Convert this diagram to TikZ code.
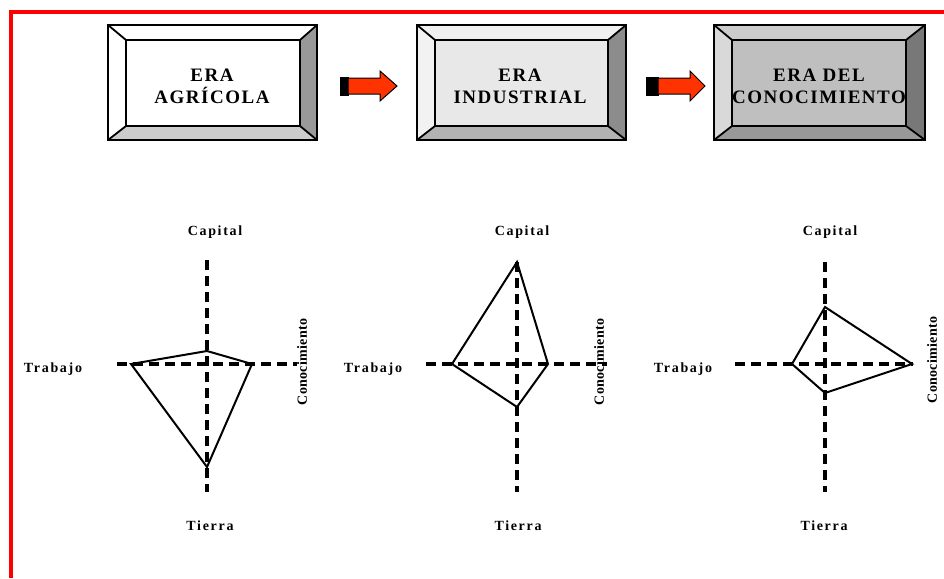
\documentclass[tikz,border=0pt]{standalone}
\usepackage{fontspec}
\setmainfont{Liberation Serif}
\usetikzlibrary{calc}

\begin{document}
\begin{tikzpicture}[x=1pt,y=-1pt,
    eje/.style={line width=3.5pt, dash pattern=on 10pt off 6pt},
    perfil/.style={line width=2pt, line join=miter},
    borde/.style={line width=1.8pt},
    titulo/.style={font=\bfseries\fontsize{19}{22}\selectfont\addfontfeature{LetterSpace=8}, align=center},
    eti/.style={font=\bfseries\fontsize{14}{16}\selectfont\addfontfeature{LetterSpace=12}},
    etirot/.style={font=\bfseries\fontsize{14}{16}\selectfont\addfontfeature{LetterSpace=2}, rotate=90}]
    \useasboundingbox (0,0) rectangle (944,578);
    \draw [red, line width=3.5pt] (11,578) -- (11,12) -- (944,12);

    % era agricola
    \fill [white] (126,40) rectangle (300,126);
    \fill [white] (108,25) -- (317,25) -- (300,40) -- (126,40) -- cycle;
    \fill [white] (108,25) -- (126,40) -- (126,126) -- (108,140) -- cycle;
    \fill [black!20] (108,140) -- (126,126) -- (300,126) -- (317,140) -- cycle;
    \fill [black!40] (317,25) -- (317,140) -- (300,126) -- (300,40) -- cycle;
    \draw [borde] (108,25) rectangle (317,140) (126,40) rectangle (300,126);
    \draw [borde] (108,25) -- (126,40) (317,25) -- (300,40) (108,140) -- (126,126) (317,140) -- (300,126);
    \node [titulo] (agricola) at (212,86) {ERA\\AGRÍCOLA};

    % era industrial
    \fill [black!9] (435,40) rectangle (608,126);
    \fill [black!6] (417,25) -- (626,25) -- (608,40) -- (435,40) -- cycle;
    \fill [black!5] (417,25) -- (435,40) -- (435,126) -- (417,140) -- cycle;
    \fill [black!30] (417,140) -- (435,126) -- (608,126) -- (626,140) -- cycle;
    \fill [black!45] (626,25) -- (626,140) -- (608,126) -- (608,40) -- cycle;
    \draw [borde] (417,25) rectangle (626,140) (435,40) rectangle (608,126);
    \draw [borde] (417,25) -- (435,40) (626,25) -- (608,40) (417,140) -- (435,126) (626,140) -- (608,126);
    \node [titulo] (industrial) at (520,86) {ERA\\INDUSTRIAL};

    % era del conocimiento
    \fill [black!25] (732,40) rectangle (906,126);
    \fill [black!20] (714,25) -- (925,25) -- (906,40) -- (732,40) -- cycle;
    \fill [black!15] (714,25) -- (732,40) -- (732,126) -- (714,140) -- cycle;
    \fill [black!40] (714,140) -- (732,126) -- (906,126) -- (925,140) -- cycle;
    \fill [black!53] (925,25) -- (925,140) -- (906,126) -- (906,40) -- cycle;
    \draw [borde] (714,25) rectangle (925,140) (732,40) rectangle (906,126);
    \draw [borde] (714,25) -- (732,40) (925,25) -- (906,40) (714,140) -- (732,126) (925,140) -- (906,126);
    \node [titulo] (conocimiento) at (819,86) {ERA DEL\\CONOCIMIENTO};

    % flechas
    \filldraw [fill=black, line width=1pt] (340,77) rectangle (348,95);
    \filldraw [fill={rgb,255:red,255;green,51;blue,0}, line width=1pt] (348,78) -- (380,78) -- (380,71) -- (397,86) -- (380,101) -- (380,94) -- (348,94) -- cycle;
    \filldraw [fill=black, line width=1pt] (646,77) rectangle (651,95);
    \filldraw [fill=black, line width=1pt] (652,77) rectangle (658,95);
    \filldraw [fill={rgb,255:red,255;green,51;blue,0}, line width=1pt] (658,78) -- (690,78) -- (690,71) -- (705,86) -- (690,101) -- (690,94) -- (658,94) -- cycle;

    % grafica 1
    \draw [eje] (207,260) -- (207,492);
    \draw [eje] (117,364) -- (297,364);
    \draw [perfil] (131,364) -- (207,351) -- (252,364) -- (207,467) -- cycle;
    \node [eti] (capital1) at (215,232) {Capital};
    \node [eti] (trabajo1) at (53,369) {Trabajo};
    \node [eti] (tierra1) at (210,526) {Tierra};
    \node [etirot] (conoc1) at (302,362) {Conocimiento};

    % grafica 2
    \draw [eje] (517,262) -- (517,492);
    \draw [eje] (426,364) -- (607,364);
    \draw [perfil] (452,364) -- (517,262) -- (548,364) -- (517,407) -- cycle;
    \node [eti] (capital2) at (522,232) {Capital};
    \node [eti] (trabajo2) at (373,369) {Trabajo};
    \node [eti] (tierra2) at (518,526) {Tierra};
    \node [etirot] (conoc2) at (599,362) {Conocimiento};

    % grafica 3
    \draw [eje] (825,262) -- (825,492);
    \draw [eje] (735,364) -- (913,364);
    \draw [perfil] (792,364) -- (825,307) -- (912,364) -- (825,393) -- cycle;
    \node [eti] (capital3) at (830,232) {Capital};
    \node [eti] (trabajo3) at (683,369) {Trabajo};
    \node [eti] (tierra3) at (824,526) {Tierra};
    \node [etirot] (conoc3) at (932,360) {Conocimiento};
\end{tikzpicture}
\end{document}
